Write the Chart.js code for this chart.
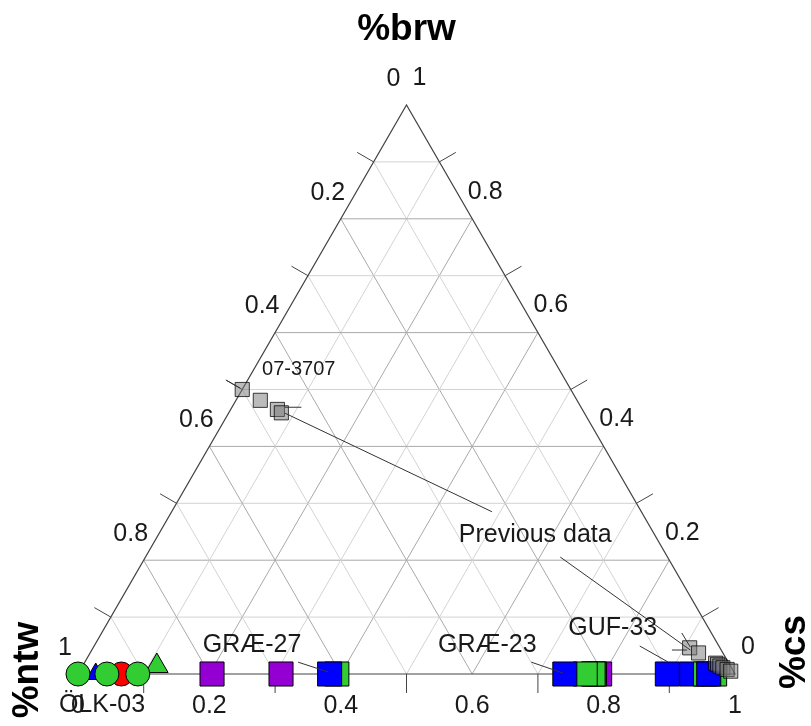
<!DOCTYPE html>
<html>
<head>
<meta charset="utf-8">
<script src="https://cdn.jsdelivr.net/npm/chart.js@4.4.0/dist/chart.umd.min.js"></script>
<style>
    body { margin: 0; background: #fff; }
    #wrap { width: 811px; height: 726px; }
</style>
</head>
<body>
<div id="wrap"><canvas id="ternary" width="811" height="726"></canvas></div>
<script>
// axis values (same on all three sides)
const tickValues = [0, 0.2, 0.4, 0.6, 0.8, 1];
const tickLabels = ["0", "0.2", "0.4", "0.6", "0.8", "1"];
const tickMarks = [0.1, 0.3, 0.5, 0.7, 0.9];
const gridSteps = [0.1, 0.2, 0.3, 0.4, 0.5, 0.6, 0.7, 0.8, 0.9];

// samples, as %cs and %brw (ntw is the rest)
const olkBlueCs = [0, 0.027];
const olkBlueBrw = [0, 0];
const olkRedCs = [0.066];
const olkRedBrw = [0];
const olkGreenTriCs = [0.113];
const olkGreenTriBrw = [0.014];
const olkGreenCs = [0, 0.044, 0.091];
const olkGreenBrw = [0, 0, 0];

const gr27PurpleCs = [0.204, 0.309];
const gr27PurpleBrw = [0, 0];
const gr27GreenCs = [0.394];
const gr27GreenBrw = [0];
const gr27BlueCs = [0.383];
const gr27BlueBrw = [0];

const gr23PurpleCs = [0.794, 0.786];
const gr23PurpleBrw = [0, 0];
const gr23GreenCs = [0.784, 0.772];
const gr23GreenBrw = [0, 0];
const gr23BlueCs = [0.741];
const gr23BlueBrw = [0];

const gufBlueCs = [0.897, 0.934];
const gufBlueBrw = [0, 0];
const gufGreenCs = [0.955, 0.969];
const gufGreenBrw = [0, 0];
const gufBlue2Cs = [0.96];
const gufBlue2Brw = [0];

// previous data
const prevCs = [0.0, 0.037, 0.071, 0.080, 0.908, 0.926, 0.961, 0.965, 0.970, 0.976, 0.984, 0.991];
const prevBrw = [0.50, 0.481, 0.465, 0.459, 0.046, 0.037, 0.019, 0.017, 0.014, 0.011, 0.008, 0.005];

const H = Math.sqrt(3) / 2;

function pts(cs, brw) {
    return cs.map((c, i) => ({ x: c + brw[i] / 2, y: brw[i] * H }));
}

function layer(cs, brw, style, color, radius) {
    return {
        data: pts(cs, brw),
        pointStyle: style,
        pointRadius: radius,
        pointHoverRadius: radius,
        pointBackgroundColor: color,
        pointBorderColor: "#000",
        pointBorderWidth: 1,
        showLine: false,
        clip: false
    };
}

const BLUE = "#0000ff";
const GREEN = "#32cd32";
const RED = "#ff0000";
const PURPLE = "#9400d3";

// bottom -> top
const layers = [
    layer(olkBlueCs, olkBlueBrw, "triangle", BLUE, 11),
    layer(olkRedCs, olkRedBrw, "circle", RED, 12),
    layer(olkGreenTriCs, olkGreenTriBrw, "triangle", GREEN, 13),
    layer(olkGreenCs, olkGreenBrw, "circle", GREEN, 12),
    layer(gr27PurpleCs, gr27PurpleBrw, "rect", PURPLE, 17),
    layer(gr27GreenCs, gr27GreenBrw, "rect", GREEN, 17),
    layer(gr27BlueCs, gr27BlueBrw, "rect", BLUE, 17),
    layer(gr23PurpleCs, gr23PurpleBrw, "rect", PURPLE, 17),
    layer(gr23GreenCs, gr23GreenBrw, "rect", GREEN, 17),
    layer(gr23BlueCs, gr23BlueBrw, "rect", BLUE, 17),
    layer(gufBlueCs, gufBlueBrw, "rect", BLUE, 17),
    layer(gufGreenCs, gufGreenBrw, "rect", GREEN, 17),
    layer(gufBlue2Cs, gufBlue2Brw, "rect", BLUE, 17),
    Object.assign(layer(prevCs, prevBrw, "rect", "rgba(120,120,120,0.5)", 10), { pointBorderColor: "rgba(0,0,0,0.75)" })
];
// chart.js paints the first dataset last
const datasets = layers.slice().reverse();

// text annotations, in plot units
const notes = [
    { text: "ÖLK-03", at: [0.0365, -0.047] },
    { text: "GRÆ-27", at: [0.265, 0.044], line: [[0.335, 0.018], [0.381, 0.003]] },
    { text: "GRÆ-23", at: [0.623, 0.044], line: [[0.690, 0.018], [0.738, 0.0015]] },
    { text: "GUF-33", at: [0.814, 0.070], line: [[0.855, 0.0426], [0.898, 0.0183]] },
    { text: "07-3707", at: [0.336, 0.463], small: true },
    { text: "Previous data", at: [0.696, 0.212] }
];
const extraLines = [
    [[0.630, 0.247], [0.315, 0.397]],
    [[0.734, 0.178], [0.932, 0.0365]],
    [[0.226, 0.447], [0.247, 0.435]],
    [[0.315, 0.406], [0.340, 0.406]],
    [[0.919, 0.0624], [0.932, 0.041]],
    [[0.904, 0.0365], [0.927, 0.0365]]
];

const FONT = "'Liberation Sans', Arial, Helvetica, sans-serif";

const ternaryFrame = {
    id: "ternaryFrame",
    beforeDatasetsDraw(chart) {
        const ctx = chart.ctx;
        const xs = chart.scales.x, ys = chart.scales.y;
        const tp = (cs, brw) => [xs.getPixelForValue(cs + brw / 2), ys.getPixelForValue(brw * H)];
        const seg = (a, b) => { ctx.beginPath(); ctx.moveTo(a[0], a[1]); ctx.lineTo(b[0], b[1]); ctx.stroke(); };

        ctx.save();
        ctx.lineWidth = 1;
        gridSteps.forEach(g => {
            const even = Math.round(g * 10) % 2 === 0;
            ctx.strokeStyle = even ? "#a9a9a9" : "#d3d3d3";
            seg(tp(0, g), tp(1 - g, g));
            seg(tp(g, 0), tp(g, 1 - g));
            seg(tp(1 - g, 0), tp(0, 1 - g));
        });

        ctx.strokeStyle = "#444";
        ctx.lineWidth = 1.2;
        ctx.beginPath();
        const L = tp(0, 0), R = tp(1, 0), T = tp(0, 1);
        ctx.moveTo(L[0], L[1]); ctx.lineTo(R[0], R[1]); ctx.lineTo(T[0], T[1]); ctx.closePath();
        ctx.stroke();

        // tick marks
        ctx.lineWidth = 1;
        const len = 19;
        tickMarks.forEach(v => {
            const b = tp(v, 0);
            seg(b, [b[0], b[1] + len]);
            const l = tp(0, 1 - v);
            seg(l, [l[0] - len * H, l[1] - len / 2]);
            const r = tp(1 - v, v);
            seg(r, [r[0] + len * H, r[1] - len / 2]);
        });

        // tick labels
        ctx.fillStyle = "#1a1a1a";
        ctx.font = "25px " + FONT;
        ctx.textAlign = "center";
        ctx.textBaseline = "middle";
        tickValues.forEach((v, i) => {
            const b = tp(v, 0);
            ctx.fillText(tickLabels[i], b[0], b[1] + 32);
            const l = tp(0, 1 - v);
            ctx.fillText(tickLabels[i], l[0] - 13, l[1] - 26);
            const r = tp(1 - v, v);
            ctx.fillText(tickLabels[i], r[0] + 13, r[1] - 27);
        });

        // axis titles
        ctx.fillStyle = "#000";
        ctx.font = "bold 37px " + FONT;
        ctx.fillText("%brw", T[0], 30);
        ctx.save();
        ctx.translate(28, 670);
        ctx.rotate(-Math.PI / 2);
        ctx.fillText("%ntw", 0, 0);
        ctx.restore();
        ctx.save();
        ctx.translate(795, 652);
        ctx.rotate(-Math.PI / 2);
        ctx.fillText("%cs", 0, 0);
        ctx.restore();
        ctx.restore();
    },
    afterDatasetsDraw(chart) {
        const ctx = chart.ctx;
        const xs = chart.scales.x, ys = chart.scales.y;
        const px = p => [xs.getPixelForValue(p[0]), ys.getPixelForValue(p[1])];
        ctx.save();
        ctx.strokeStyle = "#333";
        ctx.lineWidth = 1;
        const drawLine = ln => {
            const a = px(ln[0]), b = px(ln[1]);
            ctx.beginPath(); ctx.moveTo(a[0], a[1]); ctx.lineTo(b[0], b[1]); ctx.stroke();
        };
        extraLines.forEach(drawLine);
        notes.forEach(n => { if (n.line) drawLine(n.line); });

        ctx.fillStyle = "#1a1a1a";
        ctx.textAlign = "center";
        ctx.textBaseline = "middle";
        notes.forEach(n => {
            ctx.font = (n.small ? "20px " : "25px ") + FONT;
            const p = px(n.at);
            ctx.fillText(n.text, p[0], p[1]);
        });
        ctx.restore();
    }
};

new Chart(document.getElementById("ternary"), {
    type: "scatter",
    data: { datasets: datasets },
    options: {
        responsive: false,
        animation: false,
        layout: { padding: { left: 78, right: 76, top: 105, bottom: 52 } },
        scales: {
            x: { type: "linear", min: 0, max: 1, display: false },
            y: { type: "linear", min: 0, max: H, display: false }
        },
        plugins: {
            legend: { display: false },
            tooltip: { enabled: false }
        },
        events: []
    },
    plugins: [ternaryFrame]
});
</script>
</body>
</html>
